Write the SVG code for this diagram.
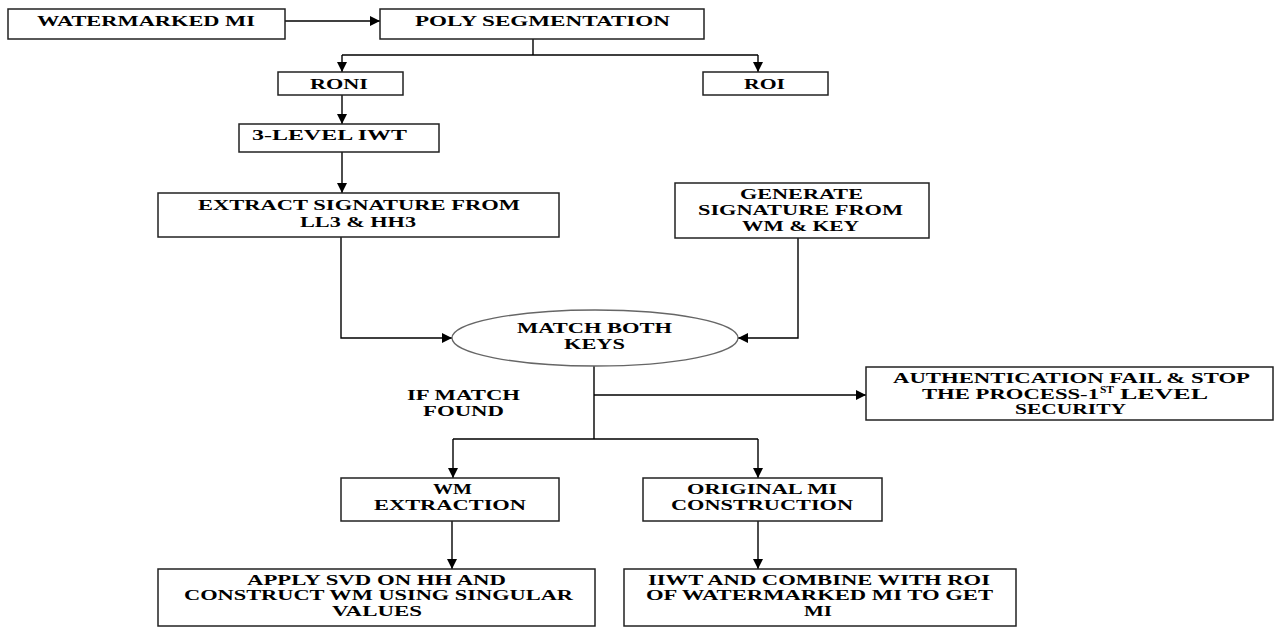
<svg xmlns="http://www.w3.org/2000/svg" width="1275" height="627" viewBox="0 0 1275 627">
<defs>
<marker id="ah" markerUnits="userSpaceOnUse" markerWidth="11" markerHeight="10" refX="10" refY="5" orient="auto">
<path d="M0,0 L10,5 L0,10 z" fill="#000"/>
</marker>
<style>
.box{fill:#fff;stroke:#222;stroke-width:1.5}
.ell{fill:#fff;stroke:#666;stroke-width:1.3}
.t{font-family:"Liberation Serif","Times New Roman",serif;font-weight:bold;font-size:15px;fill:#000}
.sup{font-family:"Liberation Serif","Times New Roman",serif;font-weight:bold;font-size:10px;fill:#000}
.c{fill:none;stroke:#000;stroke-width:1.4}
.ca{fill:none;stroke:#000;stroke-width:1.4;marker-end:url(#ah)}
</style>
</defs>
<rect width="1275" height="627" fill="#fff"/>
<g id="connectors">
<path class="ca" d="M285,21 H380"/>
<path class="c" d="M533,39 V55 M342,55 H758"/>
<path class="ca" d="M342,55 V72"/>
<path class="ca" d="M758,55 V72"/>
<path class="ca" d="M342,95 V124"/>
<path class="ca" d="M342,152 V193"/>
<path class="ca" d="M341,237 V338 H452"/>
<path class="ca" d="M798,238 V338 H738"/>
<path class="c" d="M594,366 V439 M453,439 H758"/>
<path class="ca" d="M594,395 H866"/>
<path class="ca" d="M453,439 V478"/>
<path class="ca" d="M758,439 V478"/>
<path class="ca" d="M452,521 V569"/>
<path class="ca" d="M758,521 V569"/>
</g>
<g id="watermarked-mi">
<rect class="box" x="8" y="9" width="277" height="30"/>
<text class="t" x="37" y="26" textLength="218" lengthAdjust="spacingAndGlyphs">WATERMARKED MI</text>
</g>
<g id="poly-segmentation">
<rect class="box" x="380" y="9" width="324" height="30"/>
<text class="t" x="415" y="26" textLength="255" lengthAdjust="spacingAndGlyphs">POLY SEGMENTATION</text>
</g>
<g id="roni">
<rect class="box" x="278" y="72" width="125" height="23"/>
<text class="t" x="310" y="89" textLength="58" lengthAdjust="spacingAndGlyphs">RONI</text>
</g>
<g id="roi">
<rect class="box" x="703" y="72" width="125" height="23"/>
<text class="t" x="744" y="89" textLength="41" lengthAdjust="spacingAndGlyphs">ROI</text>
</g>
<g id="iwt">
<rect class="box" x="239" y="124" width="200" height="28"/>
<text class="t" x="252" y="140" textLength="155" lengthAdjust="spacingAndGlyphs">3-LEVEL IWT</text>
</g>
<g id="extract-signature">
<rect class="box" x="158" y="193" width="401" height="44"/>
<text class="t" x="198" y="210" textLength="322" lengthAdjust="spacingAndGlyphs">EXTRACT SIGNATURE FROM</text>
<text class="t" x="300" y="227" textLength="116" lengthAdjust="spacingAndGlyphs">LL3 &amp; HH3</text>
</g>
<g id="generate-signature">
<rect class="box" x="675" y="183" width="254" height="55"/>
<text class="t" x="740" y="199" textLength="123" lengthAdjust="spacingAndGlyphs">GENERATE</text>
<text class="t" x="698" y="215" textLength="205" lengthAdjust="spacingAndGlyphs">SIGNATURE FROM</text>
<text class="t" x="742" y="231" textLength="117" lengthAdjust="spacingAndGlyphs">WM &amp; KEY</text>
</g>
<g id="match-both-keys">
<ellipse class="ell" cx="595" cy="338" rx="143" ry="28"/>
<text class="t" x="517" y="333" textLength="155" lengthAdjust="spacingAndGlyphs">MATCH BOTH</text>
<text class="t" x="564" y="349" textLength="61" lengthAdjust="spacingAndGlyphs">KEYS</text>
</g>
<g id="if-match-label">
<text class="t" x="407" y="400" textLength="113" lengthAdjust="spacingAndGlyphs">IF MATCH</text>
<text class="t" x="423" y="416" textLength="81" lengthAdjust="spacingAndGlyphs">FOUND</text>
</g>
<g id="authentication-fail">
<rect class="box" x="866" y="367" width="407" height="53"/>
<text class="t" x="893" y="383" textLength="357" lengthAdjust="spacingAndGlyphs">AUTHENTICATION FAIL &amp; STOP</text>
<text class="t" x="922" y="399" textLength="177" lengthAdjust="spacingAndGlyphs">THE PROCESS-1</text>
<text class="sup" x="1100" y="393" textLength="14" lengthAdjust="spacingAndGlyphs">ST</text>
<text class="t" x="1120" y="399" textLength="88" lengthAdjust="spacingAndGlyphs">LEVEL</text>
<text class="t" x="1015" y="414" textLength="111" lengthAdjust="spacingAndGlyphs">SECURITY</text>
</g>
<g id="wm-extraction">
<rect class="box" x="341" y="478" width="218" height="43"/>
<text class="t" x="433" y="494" textLength="39" lengthAdjust="spacingAndGlyphs">WM</text>
<text class="t" x="374" y="510" textLength="152" lengthAdjust="spacingAndGlyphs">EXTRACTION</text>
</g>
<g id="original-mi-construction">
<rect class="box" x="643" y="478" width="239" height="43"/>
<text class="t" x="687" y="494" textLength="150" lengthAdjust="spacingAndGlyphs">ORIGINAL MI</text>
<text class="t" x="671" y="510" textLength="182" lengthAdjust="spacingAndGlyphs">CONSTRUCTION</text>
</g>
<g id="apply-svd">
<rect class="box" x="158" y="569" width="437" height="57"/>
<text class="t" x="247" y="585" textLength="259" lengthAdjust="spacingAndGlyphs">APPLY SVD ON HH AND</text>
<text class="t" x="184" y="600" textLength="389" lengthAdjust="spacingAndGlyphs">CONSTRUCT WM USING SINGULAR</text>
<text class="t" x="332" y="616" textLength="90" lengthAdjust="spacingAndGlyphs">VALUES</text>
</g>
<g id="iiwt-combine">
<rect class="box" x="624" y="569" width="392" height="57"/>
<text class="t" x="648" y="585" textLength="342" lengthAdjust="spacingAndGlyphs">IIWT AND COMBINE WITH ROI</text>
<text class="t" x="646" y="600" textLength="347" lengthAdjust="spacingAndGlyphs">OF WATERMARKED MI TO GET</text>
<text class="t" x="804" y="616" textLength="28" lengthAdjust="spacingAndGlyphs">MI</text>
</g>
</svg>
